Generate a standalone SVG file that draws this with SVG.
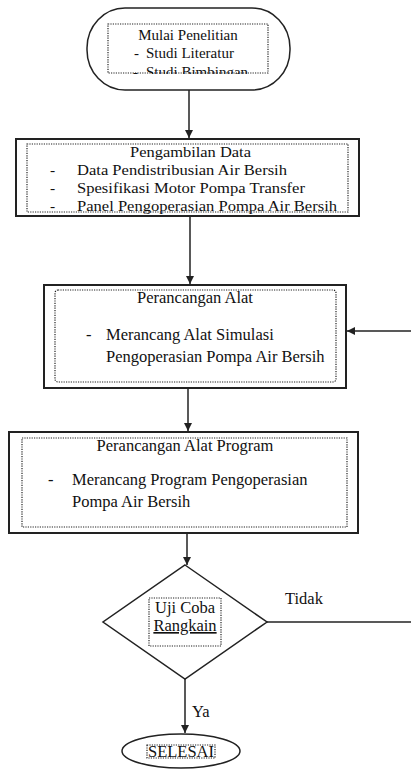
<svg xmlns="http://www.w3.org/2000/svg" width="411" height="769" viewBox="0 0 411 769" font-family="'Liberation Serif', 'Times New Roman', serif">
<style>
  .shape{fill:#fff;stroke:#222;stroke-width:1.5}
  .box{fill:#fff;stroke:#222;stroke-width:2}
  .dot{fill:none;stroke:#222;stroke-width:1.2;stroke-dasharray:1.2 1.2}
  text{font-family:'Liberation Serif','Times New Roman',serif;font-size:16.5px;fill:#111}
  .s{font-size:15px}
  .m{font-size:15.5px}
  .c{text-anchor:middle}
  .conn{stroke:#222;stroke-width:1.5;fill:none}
</style>
<defs>
  <marker id="ah" markerWidth="10" markerHeight="10" refX="9" refY="5" orient="auto" markerUnits="userSpaceOnUse">
    <path d="M1,1 L9,5 L1,9 Z" fill="#222"/>
  </marker>
  <clipPath id="startclip"><rect x="100" y="20" width="180" height="54"/></clipPath>
</defs>
<rect width="411" height="769" fill="#fff"/>
<g id="connectors">
  <line class="conn" x1="189" y1="90" x2="189" y2="138" marker-end="url(#ah)"/>
  <line class="conn" x1="190" y1="216" x2="190" y2="284" marker-end="url(#ah)"/>
  <line class="conn" x1="411" y1="331" x2="347" y2="331" marker-end="url(#ah)"/>
  <line class="conn" x1="188" y1="389" x2="188" y2="431" marker-end="url(#ah)"/>
  <line class="conn" x1="187" y1="533" x2="187" y2="565" marker-end="url(#ah)"/>
  <line class="conn" x1="267" y1="622" x2="411" y2="622"/>
  <line class="conn" x1="185" y1="679" x2="185" y2="733" marker-end="url(#ah)"/>
  <text x="285" y="604">Tidak</text>
  <text x="192" y="717">Ya</text>
</g>
<g id="start">
  <rect class="shape" x="87" y="8" width="203" height="82" rx="38" ry="40"/>
  <rect class="dot" x="108" y="24" width="160" height="49"/>
  <g clip-path="url(#startclip)">
    <text class="s c" x="188" y="40">Mulai Penelitian</text>
    <text class="s" x="134" y="58">-</text>
    <text class="s" x="146" y="58">Studi Literatur</text>
    <text class="s" x="133" y="77">-</text>
    <text class="s" x="146" y="77">Studi Bimbingan</text>
  </g>
</g>
<g id="pengambilan">
  <rect class="box" x="16" y="139" width="343" height="77"/>
  <rect class="dot" x="27" y="144" width="321" height="68"/>
  <text class="m" x="130" y="157" textLength="121" lengthAdjust="spacingAndGlyphs">Pengambilan Data</text>
  <text class="m" x="50" y="175">-</text>
  <text class="m" x="77" y="175" textLength="210" lengthAdjust="spacingAndGlyphs">Data Pendistribusian Air Bersih</text>
  <text class="m" x="50" y="193">-</text>
  <text class="m" x="77" y="193" textLength="228" lengthAdjust="spacingAndGlyphs">Spesifikasi Motor Pompa Transfer</text>
  <text class="m" x="50" y="211">-</text>
  <text class="m" x="77" y="211" textLength="260" lengthAdjust="spacingAndGlyphs">Panel Pengoperasian Pompa Air Bersih</text>
</g>
<g id="perancangan-alat">
  <rect class="box" x="44" y="285" width="302" height="103"/>
  <rect class="dot" x="55" y="290" width="281" height="92" rx="3"/>
  <text class="c" x="195" y="303">Perancangan Alat</text>
  <text x="86" y="340">-</text>
  <text x="106" y="340">Merancang Alat Simulasi</text>
  <text x="106" y="362">Pengoperasian Pompa Air Bersih</text>
</g>
<g id="perancangan-program">
  <rect class="box" x="9" y="432" width="349" height="101"/>
  <rect class="dot" x="22" y="438" width="325" height="89"/>
  <text class="c" x="185" y="451">Perancangan Alat Program</text>
  <text x="48" y="485">-</text>
  <text x="72" y="485">Merancang Program Pengoperasian</text>
  <text x="72" y="507">Pompa Air Bersih</text>
</g>
<g id="uji-coba">
  <polygon class="shape" points="185,565 267,622 185,679 103,622"/>
  <rect class="dot" x="149" y="598" width="72" height="48"/>
  <text class="c" x="185" y="613">Uji Coba</text>
  <text class="c" x="185" y="631" text-decoration="underline">Rangkain</text>
</g>
<g id="selesai">
  <ellipse class="shape" cx="181" cy="751" rx="59" ry="17"/>
  <rect class="dot" x="147" y="745" width="68" height="13"/>
  <text class="c" x="181" y="757">SELESAI</text>
</g>
</svg>
